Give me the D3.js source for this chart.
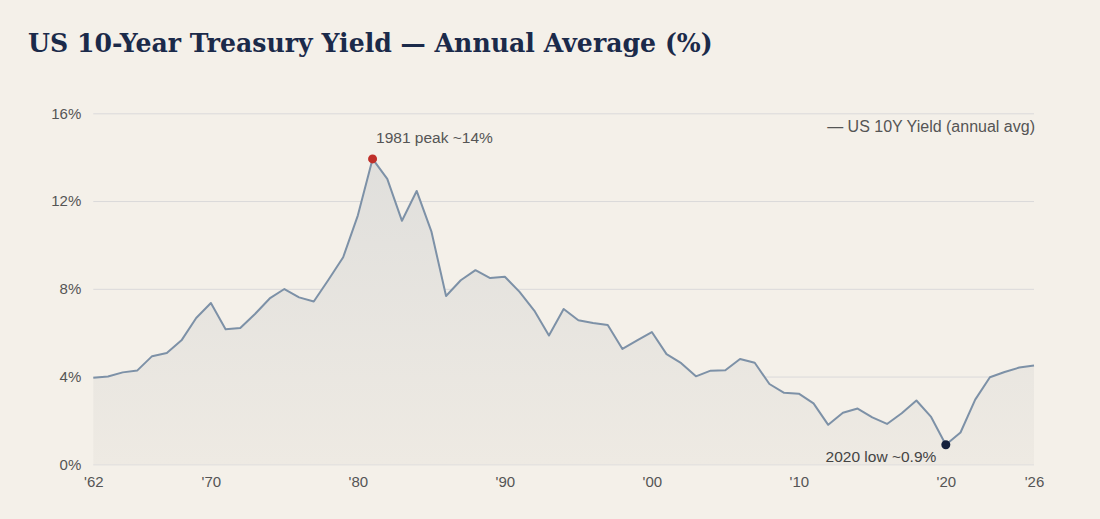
<!DOCTYPE html>
<html>
<head>
<meta charset="utf-8">
<script src="https://cdn.jsdelivr.net/npm/d3@7"></script>
<style>
  html, body { margin: 0; padding: 0; background: #f4f0e9; }
  svg { display: block; }
</style>
</head>
<body>
<svg id="chart"></svg>
<script>
// annual average 10Y yield, 1962 .. 2026
const years = d3.range(1962, 2027);
const yields = [
  3.95, 4.00, 4.19, 4.28, 4.93, 5.07, 5.65, 6.67, 7.35, 6.16,
  6.21, 6.85, 7.56, 7.99, 7.61, 7.42, 8.41, 9.44, 11.35, 13.92,
  13.01, 11.10, 12.46, 10.62, 7.67, 8.39, 8.85, 8.49, 8.55, 7.86,
  7.01, 5.87, 7.08, 6.57, 6.44, 6.35, 5.26, 5.65, 6.03, 5.02,
  4.61, 4.01, 4.27, 4.29, 4.80, 4.63, 3.66, 3.26, 3.22, 2.78,
  1.80, 2.35, 2.54, 2.14, 1.84, 2.33, 2.91, 2.16, 0.89, 1.45,
  2.95, 3.97, 4.21, 4.41, 4.50
];
const yTicks = [0, 4, 8, 12, 16];
const xTicks = [1962, 1970, 1980, 1990, 2000, 2010, 2020, 2026];
const peak = { year: 1981, label: "1981 peak ~14%" };
const low = { year: 2020, label: "2020 low ~0.9%" };
const title = "US 10-Year Treasury Yield \u2014 Annual Average (%)";
const legendLabel = "\u2014 US 10Y Yield (annual avg)";

const W = 1100, H = 519;
const margin = { top: 113.3, right: 66, bottom: 54.7, left: 93.3 };
const width = W - margin.left - margin.right;
const height = H - margin.top - margin.bottom;

const data = years.map((y, i) => ({ year: y, val: yields[i] }));

const svg = d3.select("#chart").attr("width", W).attr("height", H);
svg.append("rect").attr("width", W).attr("height", H).attr("fill", "#f4f0e9");

const sans = "'Helvetica Neue', Helvetica, Arial, 'Liberation Sans', sans-serif";

// title
svg.append("text")
  .attr("x", 28)
  .attr("y", 52)
  .attr("font-family", "Georgia, 'DejaVu Serif', serif")
  .attr("font-weight", "bold")
  .attr("font-size", 25.2)
  .attr("fill", "#1b2a4a")
  .text(title);

const g = svg.append("g")
  .attr("transform", "translate(" + margin.left + "," + margin.top + ")");

const x = d3.scaleLinear().domain([1962, 2026]).range([0, width]);
const y = d3.scaleLinear().domain([0, 16]).range([height, 0]);

// gradient for the area
const defs = svg.append("defs");
const grad = defs.append("linearGradient")
  .attr("id", "areaFill")
  .attr("gradientUnits", "userSpaceOnUse")
  .attr("x1", 0).attr("x2", 0)
  .attr("y1", y(14)).attr("y2", y(0));
grad.append("stop").attr("offset", "0%").attr("stop-color", "#e0dfdc");
grad.append("stop").attr("offset", "100%").attr("stop-color", "#eeeae3");

// grid lines
g.append("g")
  .attr("class", "grid")
  .call(d3.axisLeft(y).tickValues(yTicks).tickSize(-width).tickFormat(""))
  .call(s => s.select(".domain").remove())
  .call(s => s.selectAll("line").attr("stroke", "#dad9da").attr("stroke-width", 1));

// area + line
g.append("path")
  .datum(data)
  .attr("fill", "url(#areaFill)")
  .attr("d", d3.area().x(d => x(d.year)).y0(y(0)).y1(d => y(d.val)));

g.append("path")
  .datum(data)
  .attr("fill", "none")
  .attr("stroke", "#7d91a7")
  .attr("stroke-width", 2)
  .attr("stroke-linejoin", "round")
  .attr("d", d3.line().x(d => x(d.year)).y(d => y(d.val)));

// y axis labels
g.append("g")
  .call(d3.axisLeft(y).tickValues(yTicks).tickSize(0).tickPadding(12).tickFormat(d => d + "%"))
  .call(s => s.select(".domain").remove())
  .call(s => s.selectAll("text")
    .attr("font-family", sans).attr("font-size", 15).attr("fill", "#555"));

// x axis labels
g.append("g")
  .attr("transform", "translate(0," + height + ")")
  .call(d3.axisBottom(x).tickValues(xTicks).tickSize(0).tickPadding(12)
    .tickFormat(d => "'" + String(d).slice(2)))
  .call(s => s.select(".domain").remove())
  .call(s => s.selectAll("text")
    .attr("font-family", sans).attr("font-size", 15).attr("fill", "#555"));

// annotations
const pk = data.find(d => d.year === peak.year);
const lo = data.find(d => d.year === low.year);

g.append("circle")
  .attr("cx", x(pk.year)).attr("cy", y(pk.val)).attr("r", 4.5)
  .attr("fill", "#c0302a");
g.append("text")
  .attr("x", x(pk.year) + 3.5)
  .attr("y", y(pk.val) - 16)
  .attr("font-family", sans).attr("font-size", 15.5).attr("fill", "#555")
  .text(peak.label);

g.append("circle")
  .attr("cx", x(lo.year)).attr("cy", y(lo.val)).attr("r", 4.5)
  .attr("fill", "#15213d");
g.append("text")
  .attr("x", x(lo.year) - 9.5)
  .attr("y", y(lo.val) + 17)
  .attr("text-anchor", "end")
  .attr("font-family", sans).attr("font-size", 15.5).attr("fill", "#444")
  .text(low.label);

// legend
g.append("text")
  .attr("x", width + 1)
  .attr("y", 18.5)
  .attr("text-anchor", "end")
  .attr("font-family", sans).attr("font-size", 16).attr("fill", "#555")
  .text(legendLabel);
</script>
</body>
</html>
